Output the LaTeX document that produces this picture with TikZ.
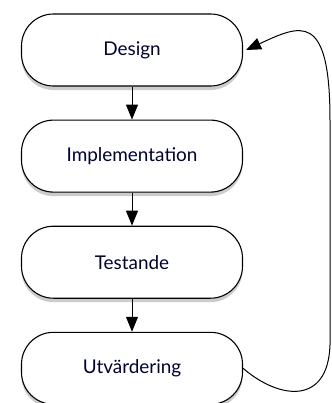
\documentclass[tikz,border=0pt]{standalone}
\usepackage{fontspec}
\setmainfont{Lato}
\usetikzlibrary{positioning,shadows,arrows.meta}

\begin{document}
\begin{tikzpicture}[x=1bp,y=1bp,
    phase/.style={draw, line width=1.1bp, rounded corners=32bp,
      minimum width=221bp, minimum height=72bp, fill=white,
      drop shadow={shadow xshift=0bp, shadow yshift=-4bp, opacity=0.4},
      font=\fontsize{19}{22}\selectfont, text=black!80!blue},
    flow/.style={-{Triangle[length=15bp,width=12bp]}, line width=1bp}]
  \useasboundingbox (0,0) rectangle (332,-403);

  \node[phase] (design) at (132,-50) {Design};
  \node[phase, below=33bp of design] (impl) {Implementation};
  \node[phase, below=33bp of impl] (test) {Testande};
  \node[phase, below=33bp of test] (utv) {Utvärdering};

  \path[flow] (design) edge (impl);
  \path[flow] (impl) edge (test);
  \path[flow] (test) edge (utv);

  % back to the start
  \coordinate (loopb) at (330,-345);
  \coordinate (loopt) at (330,-120);
  \draw[flow] (utv.east) .. controls (280,-400) and (328,-405) .. (loopb)
    -- (loopt) .. controls (330,-10) and (300,-25) .. ([xshift=3bp]design.east);
\end{tikzpicture}
\end{document}
